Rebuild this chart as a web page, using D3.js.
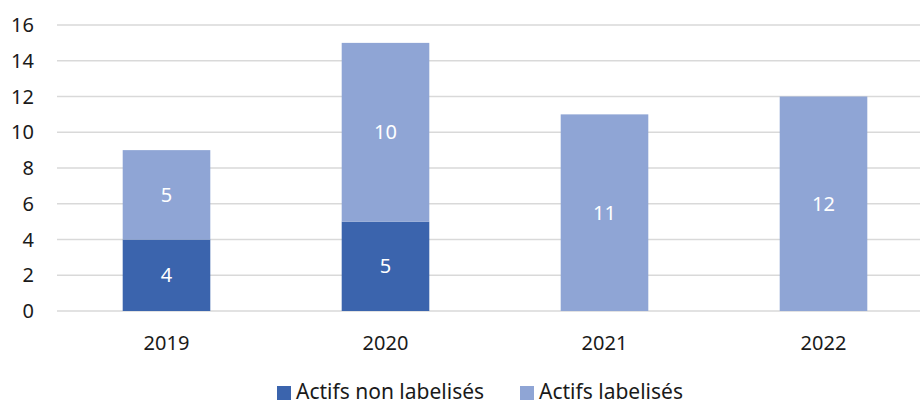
<!DOCTYPE html>
<html>
<head>
<meta charset="utf-8">
<script src="https://cdn.jsdelivr.net/npm/d3@7"></script>
<style>
  body { margin: 0; background: #fff; }
  svg { display: block; font-family: "Noto Sans", sans-serif; }
  .grid line { stroke: #d9d9d9; stroke-width: 1.5; }
  .tick-label { fill: #1a1a1a; font-size: 20px; }
  .bar-label { fill: #fff; font-size: 20px; }
  .legend text { fill: #1a1a1a; font-size: 21px; }
</style>
</head>
<body>
<div class="panel"></div>
<script>
// Data

const years = ["2019", "2020", "2021", "2022"];
const nonLabelises = [4, 5, 0, 0];
const labelises = [5, 10, 11, 12];
const seriesNames = ["Actifs non labelisés", "Actifs labelisés"];
const yTicks = [0, 2, 4, 6, 8, 10, 12, 14, 16];

const colors = ["#3b64ad", "#8fa5d5"];

const params = {
    width: 920,
    height: 405,
    left: 57,
    right: 933,
    top: 25,
    bottom: 311
};

const svg = d3.select(".panel").append("svg")
    .attr("width", params.width)
    .attr("height", params.height);

const x = d3.scaleBand()
    .domain(years)
    .range([params.left, params.right])
    .paddingInner(0.6)
    .paddingOuter(0.3);

const y = d3.scaleLinear()
    .domain([0, 16])
    .range([params.bottom, params.top]);

// Gridlines
svg.append("g")
    .attr("class", "grid")
    .selectAll("line")
    .data(yTicks)
    .enter().append("line")
    .attr("x1", params.left)
    .attr("x2", params.right)
    .attr("y1", d => y(d))
    .attr("y2", d => y(d));

// Y labels
svg.append("g")
    .selectAll("text")
    .data(yTicks)
    .enter().append("text")
    .attr("class", "tick-label")
    .attr("x", 34)
    .attr("y", d => y(d))
    .attr("dy", "0.35em")
    .attr("text-anchor", "end")
    .text(d => d);

// X labels
svg.append("g")
    .selectAll("text")
    .data(years)
    .enter().append("text")
    .attr("class", "tick-label")
    .attr("x", d => x(d) + x.bandwidth() / 2)
    .attr("y", 343)
    .attr("dy", "0.35em")
    .attr("text-anchor", "middle")
    .text(d => d);

// Stacked bars
const rows = years.map((yr, i) => ({ year: yr, a: nonLabelises[i], b: labelises[i] }));
const stack = d3.stack().keys(["a", "b"])(rows);

const layers = svg.selectAll(".layer")
    .data(stack)
    .enter().append("g")
    .attr("class", "layer")
    .attr("fill", (d, i) => colors[i]);

layers.selectAll("rect")
    .data(d => d)
    .enter().append("rect")
    .attr("x", d => x(d.data.year))
    .attr("width", x.bandwidth())
    .attr("y", d => y(d[1]))
    .attr("height", d => y(d[0]) - y(d[1]));

layers.selectAll("text")
    .data(d => d.filter(s => s[1] - s[0] > 0))
    .enter().append("text")
    .attr("class", "bar-label")
    .attr("x", d => x(d.data.year) + x.bandwidth() / 2)
    .attr("y", d => (y(d[0]) + y(d[1])) / 2)
    .attr("dy", "0.35em")
    .attr("text-anchor", "middle")
    .text(d => d[1] - d[0]);

// Legend
const legendX = [277, 520];
const legend = svg.append("g")
    .attr("class", "legend")
    .selectAll("g")
    .data(seriesNames)
    .enter().append("g")
    .attr("transform", (d, i) => `translate(${legendX[i]}, 393)`);

legend.append("rect")
    .attr("x", 0)
    .attr("y", -7)
    .attr("width", 14)
    .attr("height", 14)
    .attr("fill", (d, i) => colors[i]);

legend.append("text")
    .attr("x", 19)
    .attr("y", 6)
    .text(d => d);
</script>
</body>
</html>
